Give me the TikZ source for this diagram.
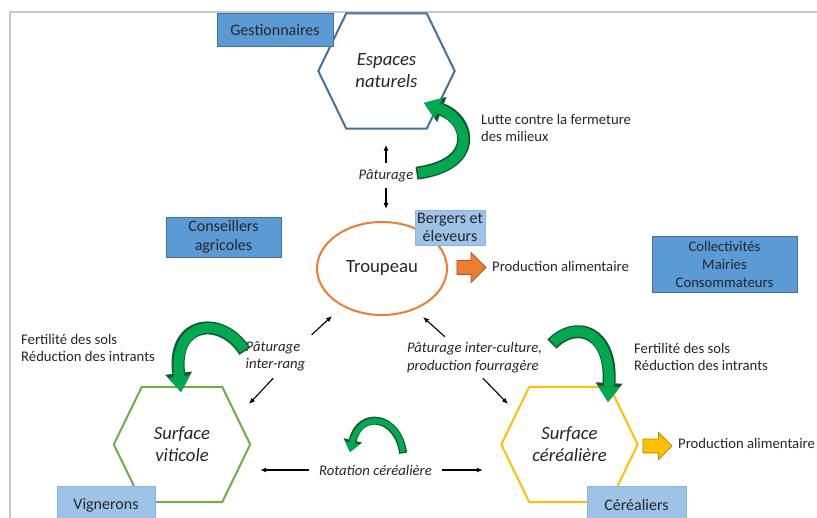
\documentclass[tikz,border=0pt]{standalone}
\usepackage{fontspec}
\setmainfont{Carlito}
\usetikzlibrary{shapes.geometric,shapes.arrows,arrows.meta,positioning}

\definecolor{bleufonce}{HTML}{5B9BD5}
\definecolor{bleubord}{HTML}{41719C}
\definecolor{bleuclair}{HTML}{9DC3E6}
\definecolor{bleuclairbord}{HTML}{8DB3E2}
\definecolor{hexbleu}{HTML}{41719C}
\definecolor{hexvert}{HTML}{70AD47}
\definecolor{hexjaune}{HTML}{FFC000}
\definecolor{jaunebord}{HTML}{BC8C00}
\definecolor{trouporange}{HTML}{ED7D31}
\definecolor{orangebord}{HTML}{AE5A21}
\definecolor{vertfleche}{HTML}{00A850}
\definecolor{vertbord}{HTML}{13592B}
\definecolor{cadre}{HTML}{C8C8C8}
\definecolor{texte}{HTML}{262626}

% contour hexagonal autour d'un noeud
\newcommand{\hexbord}[2]{%
  \draw[#2, line width=2pt, line join=miter] (#1.west) -- ([xshift=28pt]#1.north west)
    -- ([xshift=-28pt]#1.north east) -- (#1.east) -- ([xshift=-28pt]#1.south east)
    -- ([xshift=28pt]#1.south west) -- cycle;}

\tikzset{
  hexa/.style={minimum width=136pt, minimum height=115pt, inner sep=0pt, align=center,
    text=texte, font=\fontsize{18.7}{22}\selectfont\itshape},
  boite/.style={draw=bleubord, fill=bleufonce, line width=0.8pt, inner sep=0pt,
    align=center, text=texte},
  boiteclaire/.style={draw=bleuclairbord, fill=bleuclair, line width=0.8pt, inner sep=0pt,
    align=center, text=texte},
  grand/.style={font=\fontsize{16}{18.5}\selectfont},
  petit/.style={font=\fontsize{14.7}{17.5}\selectfont, text=texte},
  etiquette/.style={inner sep=0pt, align=left, text=texte,
    font=\fontsize{14.7}{17.5}\selectfont\itshape},
  fleche/.style={-{Latex[length=6pt,width=5pt]}, line width=1.1pt, black},
  boucle/.style={draw=vertbord, line width=13pt, shorten <=-1.5pt,
    -{Triangle[length=19pt,width=27pt,line width=0pt]},
    postaction={draw=vertfleche, line width=10pt, shorten <=0pt,
      -{Triangle[length=15.5pt,width=22pt,line width=0pt]}}},
  petiteboucle/.style={draw=vertbord, line width=8pt, shorten <=-1.2pt,
    -{Triangle[length=12pt,width=19pt,line width=0pt]},
    postaction={draw=vertfleche, line width=5.6pt, shorten <=0pt,
      -{Triangle[length=9.5pt,width=15pt,line width=0pt]}}},
  sortie/.style={shape=single arrow, inner xsep=0pt, inner ysep=6.5pt, minimum height=29pt,
    single arrow head extend=8pt, line width=0.8pt},
}

\begin{document}
\begin{tikzpicture}[x=1pt,y=-1pt]
\useasboundingbox (0,0) rectangle (817,518);
% cadre
\draw[cadre, line width=2pt] (10,518) -- (10,12) -- (817,12);

% espaces et surfaces
\node[hexa] (esp) at (386.5,71) {Espaces\\naturels};
\node[hexa] (vit) at (182,444.5) {Surface\\viticole};
\node[hexa] (cer) at (569.5,444.5) {Surface\\céréalière};
\hexbord{esp}{hexbleu}
\hexbord{vit}{hexvert}
\hexbord{cer}{hexjaune}

% troupeau
\node[draw=trouporange, line width=2pt, ellipse, minimum width=130pt, minimum height=93pt,
  text=texte, font=\fontsize{18.7}{22}\selectfont] (trp) at (382,268.5) {Troupeau};

% acteurs
\node[boite, grand, minimum width=116pt, minimum height=33pt] (gest) at (275,30) {Gestionnaires};
\node[boite, grand, minimum width=115pt, minimum height=40pt] (cons) at (223.5,237) {Conseillers\\agricoles};
\node[boite, petit, font=\fontsize{14.7}{18}\selectfont, minimum width=145pt, minimum height=56pt]
  (coll) at (724.5,264) {Collectivités\\Mairies\\Consommateurs};
\node[boiteclaire, grand, minimum width=70pt, minimum height=35pt] (berg) at (450,227.5) {Bergers et\\éleveurs};
\node[boiteclaire, grand, minimum width=98pt, minimum height=38pt] (vign) at (106,505) {Vignerons};
\node[boiteclaire, grand, minimum width=99pt, minimum height=38pt] (cerl) at (636.5,505) {Céréaliers};

% productions
\node[sortie, fill=trouporange, draw=orangebord] (sortA) at (468,267.5) {};
\node[petit, inner sep=0pt, anchor=west] (prodA) at (492,266) {Production alimentaire};
\node[sortie, fill=hexjaune, draw=jaunebord, single arrow head extend=6.5pt] (sortB) at (654,446) {};
\node[petit, inner sep=0pt, anchor=west] (prodB) at (678,443) {Production alimentaire};

% effets
\node[petit, anchor=west, align=left, inner sep=0pt] (lutte) at (481,128) {Lutte contre la fermeture\\des milieux};
\node[petit, anchor=west, align=left, inner sep=0pt] (fertV) at (21,348) {Fertilité des sols\\Réduction des intrants};
\node[petit, anchor=west, align=left, inner sep=0pt] (fertC) at (634,357) {Fertilité des sols\\Réduction des intrants};

% pratiques
\node[etiquette, minimum width=132pt, minimum height=25pt] (pat) at (386,175.5) {Pâturage};
\node[etiquette, minimum width=133pt, minimum height=43pt] (pir) at (275.5,356.5) {Pâturage\\inter-rang};
\node[etiquette, minimum width=155pt, minimum height=41pt] (pic) at (474.5,357.5) {Pâturage inter-culture,\\production fourragère};
\node[etiquette, minimum width=132pt, minimum height=25pt] (rot) at (375.5,470) {Rotation céréalière};

% pointes des fleches
\coordinate (versTrpB) at (332,316);
\coordinate (versVit) at (249,404);
\coordinate (versTrpC) at (423,317);
\coordinate (versCer) at (508,404);

\draw[fleche, shorten >=16pt] (pat.north) -- (pat.north |- esp.south);
\draw[fleche, shorten >=12pt] (pat.south) -- (pat.south |- trp.north);
\draw[fleche] (pir.31) -- (versTrpB);
\draw[fleche] (pir.264) -- (versVit);
\draw[fleche] (pic.145) -- (versTrpC);
\draw[fleche] (pic.292) -- (versCer);
\draw[fleche, shorten >=10pt] (rot.west) -- (rot.west -| vit.east);
\draw[fleche, shorten >=18.5pt] (rot.east) -- (rot.east -| cer.west);

% boucles vertes
\draw[boucle] (418,173) .. controls (480,165) and (470,120) .. (424,103);
\draw[boucle] (244,350) .. controls (222,315) and (172,320) .. (181,392);
\draw[boucle] (553,343) .. controls (575,320) and (612,330) .. (608,402);
\draw[petiteboucle] (403,452) .. controls (398,415) and (360,410) .. (350,452);
\end{tikzpicture}
\end{document}
